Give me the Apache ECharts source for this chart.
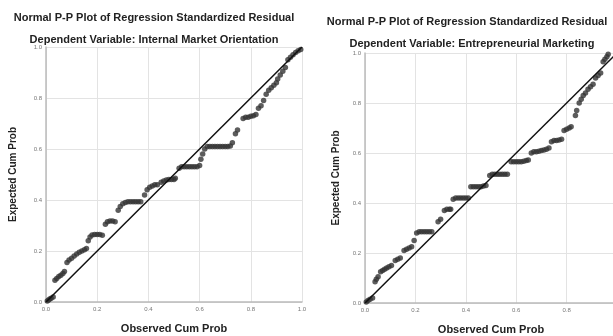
<!DOCTYPE html>
<html><head><meta charset="utf-8">
<script src="https://cdn.jsdelivr.net/npm/echarts@6/dist/echarts.min.js"></script>
<style>html,body{margin:0;padding:0;background:#fff}#c{width:613px;height:336px}</style>
</head><body><div id="c"></div>
<script>
const titleMain = "Normal P-P Plot of Regression Standardized Residual";
const subLeft = "Dependent Variable: Internal Market Orientation";
const subRight = "Dependent Variable: Entrepreneurial Marketing";
const xName = "Observed Cum Prob";
const yName = "Expected Cum Prob";
const tickValues = [0, 0.2, 0.4, 0.6, 0.8, 1.0];
const diagX = [0, 1];
const diagY = [0, 1];

// Left panel: Internal Market Orientation
const obsLeft = [0.005,0.01,0.015,0.02,0.028,
 0.035,0.042,0.05,0.058,0.066,0.072,
 0.082,0.09,0.1,0.11,0.12,0.13,0.14,0.15,0.158,
 0.165,0.172,0.18,0.19,0.2,0.21,0.22,
 0.232,0.24,0.25,0.26,0.27,
 0.282,0.29,0.3,0.31,0.32,0.33,0.34,0.35,0.36,0.37,
 0.385,0.395,0.405,0.415,0.425,0.435,
 0.45,0.46,0.47,0.48,0.49,0.5,0.505,
 0.52,0.53,0.54,0.55,0.56,0.57,0.58,0.59,0.6,
 0.605,0.612,0.62,0.63,0.64,0.65,0.66,0.67,0.68,0.69,0.7,0.71,0.72,0.728,
 0.74,0.748,
 0.77,0.78,0.79,0.8,0.81,0.82,
 0.83,0.84,0.85,
 0.86,0.87,0.88,0.89,0.9,
 0.905,0.915,0.925,0.935,
 0.945,0.955,0.965,0.975,0.985,0.995];
const expLeft = [0.004,0.008,0.012,0.015,0.02,
 0.085,0.092,0.1,0.105,0.112,0.12,
 0.155,0.165,0.172,0.18,0.188,0.195,0.2,0.205,0.21,
 0.24,0.255,0.263,0.265,0.265,0.265,0.262,
 0.305,0.315,0.318,0.318,0.315,
 0.36,0.375,0.385,0.39,0.393,0.393,0.393,0.393,0.393,0.393,
 0.42,0.44,0.45,0.455,0.46,0.46,
 0.47,0.475,0.478,0.48,0.48,0.48,0.485,
 0.525,0.53,0.53,0.53,0.53,0.53,0.53,0.53,0.535,
 0.56,0.58,0.6,0.61,0.61,0.61,0.61,0.61,0.61,0.61,0.61,0.61,0.612,0.625,
 0.66,0.675,
 0.72,0.725,0.725,0.728,0.73,0.735,
 0.76,0.77,0.79,
 0.815,0.83,0.84,0.85,0.86,
 0.875,0.89,0.905,0.92,
 0.95,0.96,0.97,0.978,0.985,0.99];

// Right panel: Entrepreneurial Marketing
const obsRight = [0.005,0.012,0.02,0.03,
 0.04,0.045,0.052,
 0.062,0.07,0.078,0.086,0.095,0.105,
 0.12,0.13,0.14,
 0.155,0.165,0.175,0.185,
 0.195,
 0.205,0.215,0.225,0.235,0.245,0.255,0.265,
 0.29,0.3,
 0.315,0.325,0.335,0.34,
 0.35,0.36,0.37,0.38,0.39,0.4,0.41,
 0.42,0.43,0.44,0.45,0.46,0.47,0.48,
 0.495,0.505,0.515,0.525,0.535,0.545,0.555,0.565,
 0.58,0.59,0.6,0.61,0.62,0.63,0.64,0.648,
 0.66,0.67,0.68,0.69,0.7,0.71,0.72,0.73,
 0.74,0.75,0.76,0.77,0.78,
 0.79,0.8,0.81,0.818,
 0.835,0.84,
 0.85,0.858,0.866,0.875,
 0.885,0.895,0.905,
 0.915,0.925,0.935,
 0.945,0.952,0.96,0.965];
const expRight = [0.004,0.01,0.015,0.02,
 0.085,0.095,0.105,
 0.125,0.13,0.135,0.14,0.145,0.15,
 0.17,0.175,0.18,
 0.21,0.215,0.22,0.225,
 0.25,
 0.28,0.285,0.285,0.285,0.285,0.285,0.285,
 0.325,0.335,
 0.37,0.375,0.375,0.375,
 0.415,0.42,0.42,0.42,0.42,0.42,0.42,
 0.465,0.465,0.465,0.465,0.465,0.468,0.47,
 0.51,0.515,0.515,0.515,0.515,0.515,0.515,0.515,
 0.565,0.565,0.565,0.565,0.565,0.567,0.57,0.572,
 0.6,0.605,0.605,0.607,0.61,0.612,0.615,0.62,
 0.645,0.65,0.65,0.652,0.655,
 0.69,0.695,0.7,0.705,
 0.75,0.77,
 0.8,0.815,0.83,0.84,
 0.855,0.865,0.875,
 0.9,0.91,0.92,
 0.965,0.975,0.985,0.995];

const zip = (a, b) => a.map((v, i) => [v, b[i]]);
const FONT = "Liberation Sans";
function axisX(gi, nameGap) {
  return { gridIndex: gi, type: 'value', min: 0, max: 1, interval: 0.2,
    name: xName, nameLocation: 'middle', nameGap: nameGap,
    nameTextStyle: { fontFamily: FONT, fontSize: 11, fontWeight: 'bold', color: '#222' },
    axisLine: { show: true, lineStyle: { color: '#bbb', width: 1.5 } },
    axisTick: { show: false },
    axisLabel: { fontFamily: FONT, fontSize: 6, color: '#777', margin: 4, showMaxLabel: true,
      formatter: v => v.toFixed(1) },
    splitLine: { show: true, lineStyle: { color: '#e3e3e3', width: 1 } } };
}
function axisY(gi, nameGap) {
  return { gridIndex: gi, type: 'value', min: 0, max: 1, interval: 0.2,
    name: yName, nameLocation: 'middle', nameGap: nameGap,
    nameTextStyle: { fontFamily: FONT, fontSize: 10, fontWeight: 'bold', color: '#222' },
    axisLine: { show: true, lineStyle: { color: '#bbb', width: 1.5 } },
    axisTick: { show: false },
    axisLabel: { fontFamily: FONT, fontSize: 6, color: '#777', margin: 4,
      formatter: v => v.toFixed(1) },
    splitLine: { show: true, lineStyle: { color: '#e3e3e3', width: 1 } } };
}
const tStyle = { fontFamily: FONT, fontSize: 11, fontWeight: 'bold', color: '#222' };
const chart = echarts.init(document.getElementById('c'), null, { renderer: 'canvas' });
chart.setOption({
  animation: false,
  title: [
    { text: titleMain, left: 149, top: 7, textAlign: 'center', textStyle: tStyle },
    { text: subLeft, left: 149, top: 29, textAlign: 'center', textStyle: tStyle },
    { text: titleMain, left: 462, top: 11, textAlign: 'center', textStyle: tStyle },
    { text: subRight, left: 467, top: 33, textAlign: 'center', textStyle: tStyle }
  ],
  grid: [
    { left: 46, top: 47, width: 256, height: 255, outerBoundsMode: 'none', containLabel: false },
    { left: 365, top: 53, width: 252, height: 250, outerBoundsMode: 'none', containLabel: false }
  ],
  xAxis: [axisX(0, 21), axisX(1, 21)],
  yAxis: [axisY(0, 28), axisY(1, 24)],
  series: [
    { type: 'line', xAxisIndex: 0, yAxisIndex: 0, data: zip(diagX, diagY), symbol: 'none',
      lineStyle: { color: '#111', width: 1.5 }, z: 3 },
    { type: 'scatter', xAxisIndex: 0, yAxisIndex: 0, data: zip(obsLeft, expLeft),
      symbolSize: 5.5, itemStyle: { color: '#333' }, z: 2 },
    { type: 'line', xAxisIndex: 1, yAxisIndex: 1, data: zip(diagX, diagY), symbol: 'none',
      lineStyle: { color: '#111', width: 1.5 }, z: 3 },
    { type: 'scatter', xAxisIndex: 1, yAxisIndex: 1, data: zip(obsRight, expRight),
      symbolSize: 5.5, itemStyle: { color: '#333' }, z: 2 }
  ]
});
</script></body></html>
